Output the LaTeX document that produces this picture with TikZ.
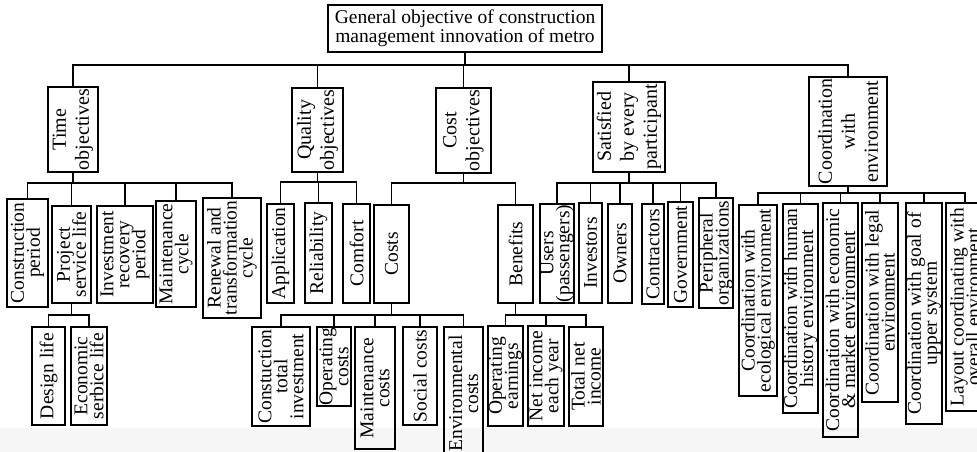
\documentclass[tikz,border=0pt]{standalone}
\usepackage{fontspec}
\setmainfont{Liberation Serif}
\usepackage{graphicx}
\newcommand\vt[1]{\rotatebox{90}{\vbox{\lineskiplimit=-100pt\relax\halign{\hfil##\hfil\cr#1\crcr}}}}
\tikzset{
  box/.style={draw, line width=1.9pt, inner sep=0pt, outer sep=0pt},
  conn/.style={line width=1.8pt},
  vfont/.style={font=\fontsize{19.5}{16}\selectfont},
  lfont/.style={font=\fontsize{20}{23}\selectfont},
  rfont/.style={font=\fontsize{19.5}{19}\selectfont, align=center}
}
\newcommand\bx[7][]{\node[box,#1,minimum width={#5-#3},minimum height={#6-#4}] (#2) at ({(#3+#5)/2},{(#4+#6)/2}) {#7};}
\newcommand\fork[3]{\coordinate (fk) at (0,#2);
  \foreach \c in {#3}{\draw[conn] (#1.south) -- (#1.south |- fk) -| (\c.north);}}
\begin{document}
\begin{tikzpicture}[x=1pt,y=-1pt]
\useasboundingbox (0,0) rectangle (977,452);
\fill[gray!6] (0,428) rectangle (977,452);
% root
\bx[rfont]{root}{328}{5}{602}{52}{General objective of construction\\management innovation of metro}
% level 1
\bx[lfont]{time}{48}{87}{98}{172}{\vt{Time\cr objectives}}
\bx[lfont]{qual}{292}{88}{343}{172}{\vt{Quality\cr objectives}}
\bx[lfont]{costo}{436}{88}{491}{173}{\vt{Cost\cr objectives}}
\bx[lfont]{satis}{593}{82}{665}{172}{\vt{Satisfied\cr by every\cr participant}}
\bx[lfont]{coord}{809}{77}{887}{186}{\vt{Coordination\cr with\cr environment}}
% time children
\bx[vfont]{t1}{7}{199}{48}{307}{\vt{Construction\cr period}}
\bx[vfont]{t2}{52}{206}{91}{303}{\vt{Project\cr service life}}
\bx[vfont]{t3}{97}{206}{153}{303}{\vt{Investment\cr recovery\cr period}}
\bx[vfont]{t4}{156}{201}{196}{307}{\vt{Maintenance\cr cycle}}
\bx[vfont]{t5}{203}{198}{261}{318}{\vt{Renewal and\cr transformation\cr cycle}}
% project children
\bx[vfont]{p1}{32}{327}{65}{425}{\vt{Design life}}
\bx[vfont]{p2}{71}{327}{107}{425}{\vt{Economic\cr serbice life}}
% quality children
\bx[vfont]{q1}{267}{204}{294}{303}{\vt{Application}}
\bx[vfont]{q2}{305}{203}{332}{303}{\vt{Reliability}}
\bx[vfont]{q3}{343}{204}{370}{303}{\vt{Comfort}}
% cost objective children
\bx[vfont]{costs}{374}{205}{409}{303}{\vt{Costs}}
\bx[vfont]{bene}{498}{205}{533}{303}{\vt{Benefits}}
% costs children
\bx[vfont]{c1}{252}{327}{310}{426}{\vt{Constuction\cr total\cr investment}}
\bx[vfont]{c2}{317}{327}{351}{406}{\vt{Operating\cr costs}}
\bx[vfont]{c3}{355}{327}{395}{449}{\vt{Maintenance\cr costs}}
\bx[vfont]{c4}{403}{327}{437}{425}{\vt{Social costs}}
\bx[vfont]{c5}{444}{327}{483}{460}{\vt{Environmental\cr costs}}
% benefits children
\bx[vfont]{b1}{488}{326}{523}{426}{\vt{Operating\cr earnings}}
\bx[vfont]{b2}{528}{326}{564}{426}{\vt{Net income\cr each year}}
\bx[vfont]{b3}{569}{327}{603}{426}{\vt{Total net\cr income}}
% satisfied children
\bx[vfont]{s1}{540}{204}{574}{303}{\vt{Users\cr (passengers)}}
\bx[vfont]{s2}{579}{203}{602}{303}{\vt{Investors}}
\bx[vfont]{s3}{608}{204}{632}{303}{\vt{Owners}}
\bx[vfont]{s4}{642}{204}{664}{304}{\vt{Contractors}}
\bx[vfont]{s5}{668}{202}{693}{307}{\vt{Government}}
\bx[vfont]{s6}{700}{198}{732}{308}{\vt{Peripheral\cr organizations}}
% coordination children
\bx[vfont]{e1}{739}{205}{777}{396}{\vt{Coordination with\cr ecological environment}}
\bx[vfont]{e2}{783}{204}{818}{413}{\vt{Coordination with human\cr history environment}}
\bx[vfont]{e3}{823}{203}{858}{437}{\vt{Coordination with economic\cr \& market environment}}
\bx[vfont]{e4}{862}{203}{898}{402}{\vt{Coordination with legal\cr environment}}
\bx[vfont]{e5}{906}{203}{942}{424}{\vt{Coordination with goal of\cr upper system}}
\bx[vfont]{e6}{946}{203}{984}{411}{\vt{Layout coordinating with\cr overall environment}}
% connectors
\fork{root}{65}{time,qual,costo,satis,coord}
\fork{time}{183}{t1,t2,t3,t4,t5}
\fork{t2}{315}{p1,p2}
\fork{qual}{182}{q1,q2,q3}
\fork{costo}{183}{costs,bene}
\fork{costs}{315}{c1,c2,c3,c4,c5}
\fork{bene}{315}{b1,b2,b3}
\fork{satis}{183}{s1,s2,s3,s4,s5,s6}
\fork{coord}{193}{e1,e2,e3,e4,e5,e6}
\end{tikzpicture}
\end{document}
